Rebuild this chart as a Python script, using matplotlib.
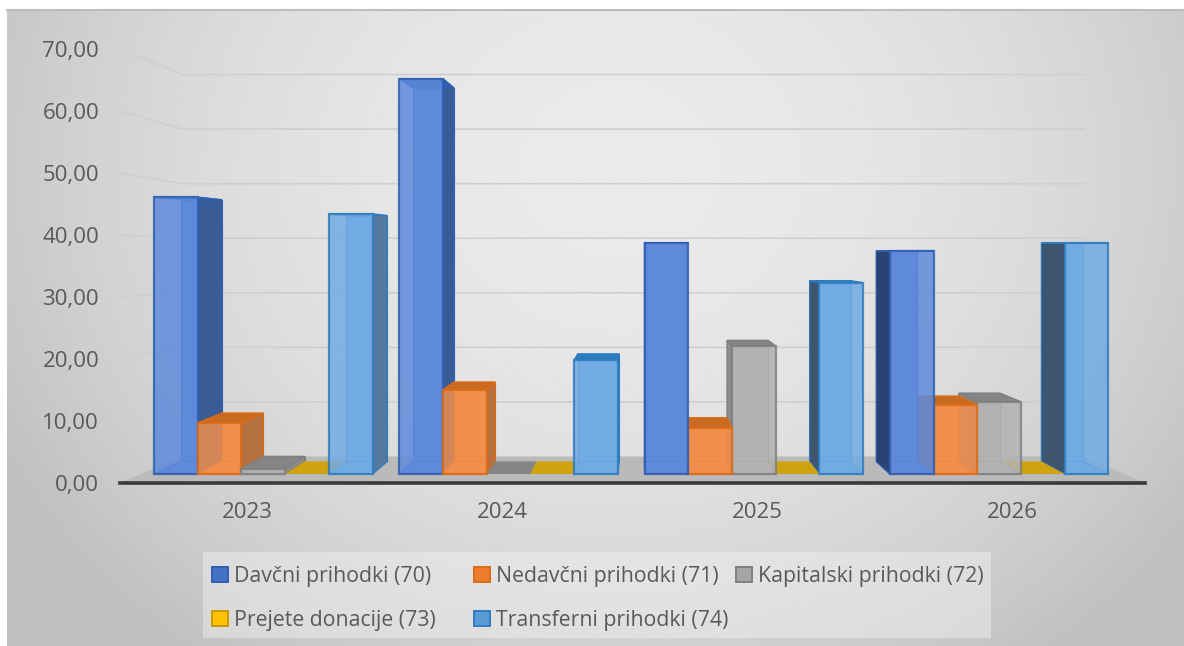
import numpy as np
import matplotlib
matplotlib.use("Agg")
import matplotlib.pyplot as plt
from matplotlib.patches import Patch, Polygon, Rectangle

plt.rcParams['font.family'] = ['Open Sans', 'DejaVu Sans']

years = ["2023", "2024", "2025", "2026"]
series = ["Davčni prihodki (70)", "Nedavčni prihodki (71)", "Kapitalski prihodki (72)",
          "Prejete donacije (73)", "Transferni prihodki (74)"]
davcni = [46.1, 65.2, 38.7, 37.4]
nedavcni = [9.7, 15.0, 8.9, 12.6]
kapitalski = [2.3, 0.0, 22.1, 13.1]
donacije = [0.0, 0.0, 0.0, 0.0]
transferni = [43.4, 19.8, 32.3, 38.7]
y_ticks = [0, 10, 20, 30, 40, 50, 60, 70]

values = [davcni, nedavcni, kapitalski, donacije, transferni]
front = ["#5F8ADB", "#F08E4E", "#B2B2B2", "#CFA30F", "#72ABE3"]
edge = ["#2F5FB0", "#DE6A12", "#7F7F7F", "#C79A00", "#2E7CC0"]
side_right = ["#3A5C96", "#B5703F", "#8C8C8C", "#B8920A", "#55789F"]
side_left = ["#2A4372", "#B5703F", "#8C8C8C", "#B8920A", "#3E5570"]
top = ["#2F5FB0", "#C96A22", "#858585", "#CFA30F", "#2E7CC0"]
legend_face = ["#4472C4", "#ED7D31", "#A5A5A5", "#FFC000", "#5B9BD5"]
legend_cols = [[0, 3], [1, 4], [2]]
legend_x = [212, 474, 736]

W, H = 1184, 646
PX_Y = 6.2      # pixels per unit
PX_X = 255.0    # pixels per category on the front axis

fig = plt.figure(figsize=(W / 100, H / 100), dpi=100, facecolor="white")

# grey panel behind the chart
bg = fig.add_axes([7 / W, 0, 1177 / W, 636 / H])
yy, xx = np.mgrid[0:1:300j, 0:1:450j]
dist = np.sqrt(((xx - 0.52) / 0.55) ** 2 + ((yy - 0.25) / 0.9) ** 2)
bg.imshow(np.clip(234 - 36 * dist ** 2, 192, 240), cmap="gray", vmin=0, vmax=255,
          aspect="auto", extent=[0, 1, 0, 1])
bg.set_xticks([])
bg.set_yticks([])
for s in bg.spines.values():
    s.set_visible(False)
bg.spines["top"].set_visible(True)
bg.spines["top"].set_color("#BDBDBD")
bg.spines["top"].set_linewidth(1.5)

ax = fig.add_axes([120 / W, (H - 483) / H, 1025 / W, 453 / H])
ax.patch.set_alpha(0)
ax.set_xlim((120 - 247) / PX_X, (1145 - 247) / PX_X)
ax.set_ylim(0, 453 / PX_Y)

x0, x1 = ax.get_xlim()
vx = (640 - 247) / PX_X     # vanishing point
vy_wall = (483 - 262) / PX_Y
vy_bar = (483 - 245) / PX_Y
k_wall = 0.12
k_bar = 0.055
base = 1.45


def to_back(x, y, k, vy):
    return x + k * (vx - x), y + k * (vy - y)


def face(pts, color, ec, alpha=1.0, z=3.0, lw=1.4):
    ax.add_patch(Polygon(pts, closed=True, facecolor=color, edgecolor=ec, alpha=alpha,
                         linewidth=lw, zorder=z, clip_on=False))


# floor
bl = to_back(x0, 0, k_wall, vy_wall)
br = to_back(x1, 0, k_wall, vy_wall)
face([(x0, 0), (x1, 0), br, bl], "#BABABA", "none", z=1, lw=0)

# grid on the walls
for t in y_ticks[1:]:
    lx, ly = to_back(x0, t, k_wall, vy_wall)
    rx, ry = to_back(x1, t, k_wall, vy_wall)
    ax.plot([x0, lx, rx], [t, ly, ry], color="#CFCFCF", lw=1.2, zorder=1, clip_on=False)

# bars, furthest from the vanishing point first
width = 43.7 / PX_X
bars = []
for g in range(len(years)):
    for s in range(len(series)):
        left = (154 - 247) / PX_X + g * 245.3 / PX_X + s * width
        bars.append((abs(left + width / 2 - vx), left, values[s][g], s))
bars.sort(key=lambda b: -b[0])

for i, (d, left, val, s) in enumerate(bars):
    z = 2 + i * 0.01
    right = left + width
    h = max(val, base)
    fl, fb = to_back(left, base, k_bar, vy_bar)
    fr, fb2 = to_back(right, base, k_bar, vy_bar)
    tl, th = to_back(left, h, k_bar, vy_bar)
    tr, th2 = to_back(right, h, k_bar, vy_bar)
    if val <= 0:
        face([(left, base), (right, base), (fr, fb2), (fl, fb)], top[s], "none", z=z, lw=0)
        continue
    face([(fl, fb), (fr, fb2), (tr, th2), (tl, th)], front[s], edge[s], z=z, lw=0.8)
    face([(left, base), (right, base), (fr, fb2), (fl, fb)], front[s], edge[s], z=z, lw=0.8)
    if left + width / 2 < vx:
        face([(right, base), (fr, fb2), (tr, th2), (right, h)], side_right[s], edge[s], z=z, lw=0.8)
    else:
        face([(left, base), (fl, fb), (tl, th), (left, h)], side_left[s], edge[s], z=z, lw=0.8)
    face([(left, h), (right, h), (tr, th2), (tl, th)], top[s], edge[s], z=z, lw=1)
    face([(left, base), (right, base), (right, h), (left, h)], front[s], edge[s], alpha=0.85, z=z, lw=1.6)

ax.set_xticks(range(len(years)))
ax.set_xticklabels(years)
ax.set_yticks(y_ticks)
ax.set_yticklabels([f"{t},00" for t in y_ticks])
ax.tick_params(axis="both", length=0, labelsize=16, labelcolor="#595959")
ax.tick_params(axis="y", pad=15)
ax.tick_params(axis="x", pad=14)
for name in ["top", "left", "right"]:
    ax.spines[name].set_visible(False)
ax.spines["bottom"].set_color("#3A3A3A")
ax.spines["bottom"].set_linewidth(2.6)

# legend: box plus one legend per column, the columns are not evenly spaced
fig.add_artist(Rectangle((203 / W, (H - 638) / H), 788 / W, 86 / H, transform=fig.transFigure,
                         facecolor="#F2F2F2", alpha=0.45, edgecolor="none"))
for col, px in zip(legend_cols, legend_x):
    handles = [Patch(facecolor=legend_face[i], edgecolor=edge[i], linewidth=1.4, label=series[i])
               for i in col]
    fig.legend(handles=handles, ncol=1, loc="upper left", bbox_to_anchor=(px / W, (H - 566) / H),
               fontsize=15.35, frameon=False, handlelength=0.75, handleheight=0.75,
               handletextpad=0.3, labelspacing=1.08, borderpad=0, borderaxespad=0,
               labelcolor="#595959")

fig.savefig("out.png", dpi=100)
